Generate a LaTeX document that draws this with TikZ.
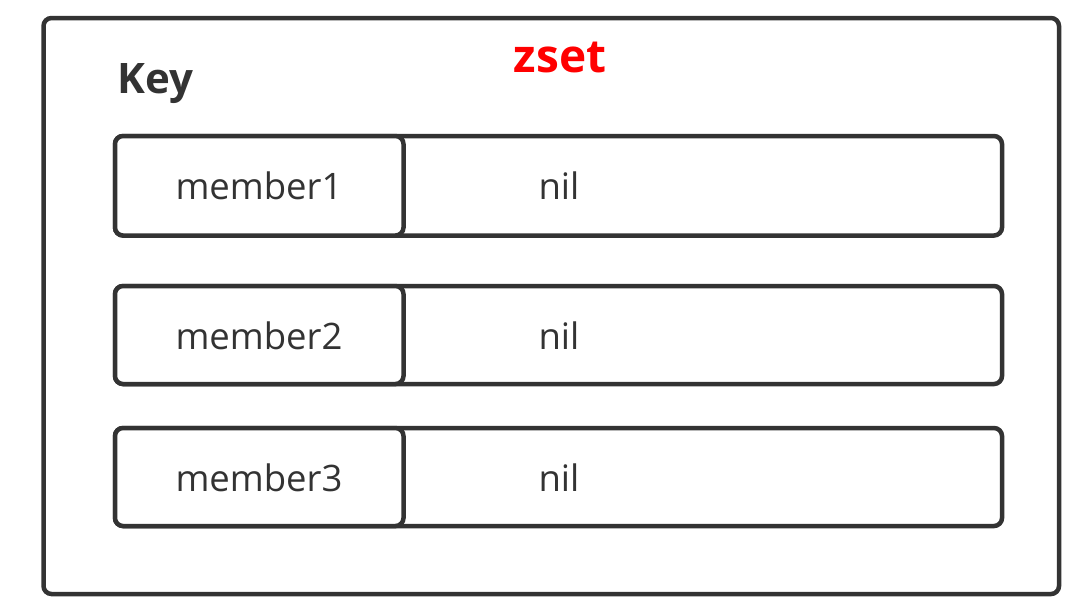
\documentclass[tikz,border=0pt]{standalone}
\usepackage{fontspec}
\setmainfont{Open Sans}
\definecolor{ink}{HTML}{333333}
\begin{document}
\begin{tikzpicture}[x=1pt,y=-1pt,
  box/.style={draw=ink,line width=4.5pt,rounded corners=8pt,inner sep=0pt,fill=white},
  lbl/.style={anchor=base,text=ink,inner sep=0pt,font=\fontsize{36.5}{40}\selectfont}]
\useasboundingbox (0,0) rectangle (1077,606);
\node[box,minimum width=1015.5pt,minimum height=576pt] (outer) at (551.25,306) {};
\node[anchor=base west,inner sep=0pt,text=ink,font=\bfseries\fontsize{42}{46}\selectfont] (key) at (117,93) {Key};
\node[anchor=base,inner sep=0pt,text=red,font=\bfseries\fontsize{46}{50}\selectfont] (zset) at (560,72) {zset};
\foreach \i/\yt/\yb in {1/136/235.5,2/286/384,3/428/526}{
  \node[box,minimum width=887pt,minimum height={\yb-\yt}] (row\i) at (558.5,{(\yt+\yb)/2}) {};
  \node[box,minimum width=288.5pt,minimum height={\yb-\yt}] (mem\i) at (259.25,{(\yt+\yb)/2}) {};
  \node[lbl] (mtext\i) at (259,{(\yt+\yb)/2+14}) {member\i};
  \node[lbl] (nil\i) at (559,{(\yt+\yb)/2+14}) {nil};
}
\end{tikzpicture}
\end{document}
